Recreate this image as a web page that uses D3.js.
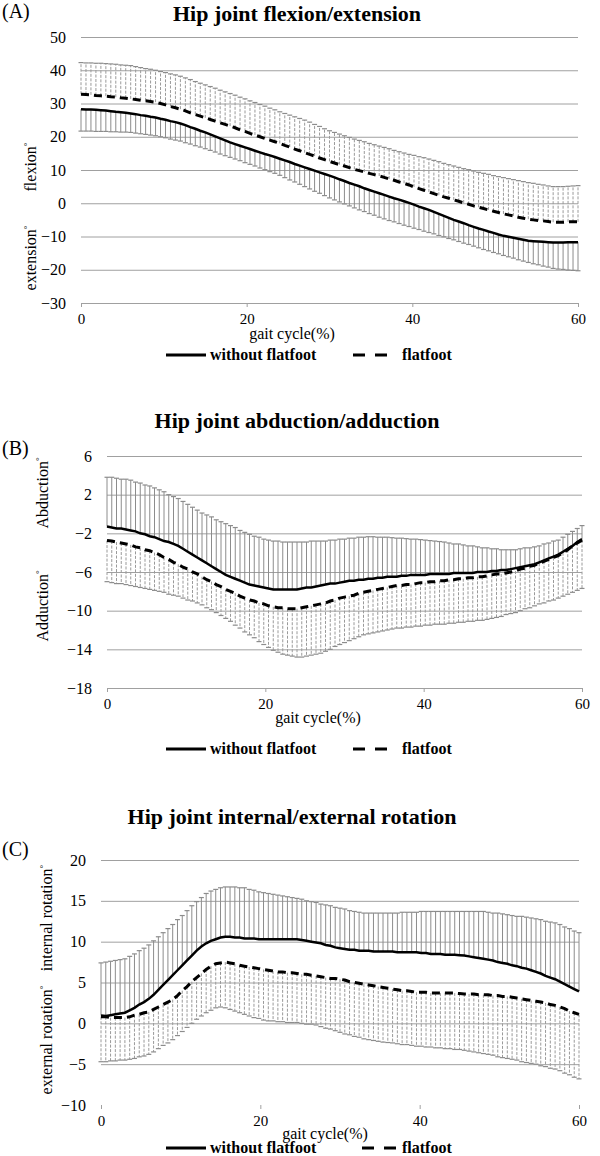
<!DOCTYPE html>
<html>
<head>
<meta charset="utf-8">
<script src="https://cdn.jsdelivr.net/npm/d3@7"></script>
<style>
body { margin: 0; background: #fff; }
text { font-family: "Liberation Serif", "Times New Roman", serif; fill: #000; }
</style>
</head>
<body>
<div id="chart-area"></div>
<script>
// gait cycle samples (%)
const gaitCycle = [0,0.6,1.2,1.8,2.4, 3,3.6,4.2,4.8,5.4, 6,6.6,7.2,7.8,8.4, 9,9.6,10.2,10.8,11.4,
  12,12.6,13.2,13.8,14.4, 15,15.6,16.2,16.8,17.4, 18,18.6,19.2,19.8,20.4, 21,21.6,22.2,22.8,23.4,
  24,24.6,25.2,25.8,26.4, 27,27.6,28.2,28.8,29.4, 30,30.6,31.2,31.8,32.4, 33,33.6,34.2,34.8,35.4,
  36,36.6,37.2,37.8,38.4, 39,39.6,40.2,40.8,41.4, 42,42.6,43.2,43.8,44.4, 45,45.6,46.2,46.8,47.4,
  48,48.6,49.2,49.8,50.4, 51,51.6,52.2,52.8,53.4, 54,54.6,55.2,55.8,56.4, 57,57.6,58.2,58.8,59.4, 60];
const xTicks = [0, 20, 40, 60];

// (A) flexion / extension
const flexTicks = [50, 40, 30, 20, 10, 0, -10, -20, -30];
const flexWithout = [28.3,28.2,28.2,28.1,28.0, 27.9,27.7,27.5,27.4,27.2, 27.0,26.8,26.5,26.3,26.0, 25.8,25.4,25.1,24.7,24.4,
  24.0,23.5,22.9,22.4,21.8, 21.3,20.7,20.1,19.5,18.9, 18.3,17.8,17.3,16.8,16.3, 15.8,15.3,14.8,14.4,13.9,
  13.4,12.9,12.4,11.8,11.3, 10.8,10.3,9.8,9.3,8.8, 8.3,7.8,7.2,6.7,6.1, 5.6,5.1,4.5,4.0,3.5,
  3.0,2.5,2.0,1.5,1.1, 0.6,0.1,-0.4,-1.0,-1.5, -2.0,-2.6,-3.2,-3.8,-4.4, -5.0,-5.5,-6.0,-6.6,-7.1,
  -7.6,-8.0,-8.5,-8.9,-9.4, -9.8,-10.1,-10.4,-10.7,-11.0, -11.3,-11.4,-11.5,-11.6,-11.7, -11.8,-11.8,-11.8,-11.7,-11.7, -11.7];
const flexWithoutLow = [21.7,21.7,21.7,21.6,21.6, 21.6,21.5,21.5,21.4,21.4, 21.3,21.1,20.9,20.7,20.5, 20.3,20.0,19.7,19.3,19.0,
  18.7,18.2,17.8,17.3,16.9, 16.4,15.9,15.4,14.8,14.3, 13.8,13.3,12.8,12.2,11.7, 11.2,10.6,10.1,9.5,9.0,
  8.4,7.7,7.0,6.4,5.7, 5.0,4.3,3.6,3.0,2.3, 1.6,1.0,0.4,-0.2,-0.8, -1.4,-2.0,-2.5,-3.1,-3.6,
  -4.2,-4.7,-5.2,-5.6,-6.1, -6.6,-7.0,-7.5,-7.9,-8.4, -8.8,-9.2,-9.7,-10.1,-10.6, -11.0,-11.5,-12.0,-12.4,-12.9,
  -13.4,-13.9,-14.3,-14.8,-15.2, -15.7,-16.1,-16.5,-17.0,-17.4, -17.8,-18.2,-18.5,-18.9,-19.2, -19.6,-19.8,-19.9,-20.1,-20.2, -20.3];
const flexFlat = [32.8,32.7,32.6,32.4,32.3, 32.2,32.0,31.9,31.7,31.6, 31.4,31.2,31.0,30.8,30.6, 30.4,30.0,29.6,29.1,28.7,
  28.3,27.8,27.2,26.7,26.2, 25.7,25.2,24.7,24.2,23.7, 23.2,22.7,22.1,21.6,21.0, 20.5,20.0,19.5,19.0,18.5,
  18.0,17.4,16.9,16.3,15.8, 15.2,14.7,14.2,13.6,13.1, 12.6,12.1,11.6,11.2,10.7, 10.2,9.8,9.4,9.0,8.6,
  8.2,7.8,7.3,6.9,6.4, 6.0,5.5,4.9,4.4,3.9, 3.4,2.9,2.4,1.9,1.5, 1.0,0.6,0.1,-0.3,-0.8,
  -1.2,-1.6,-2.0,-2.4,-2.8, -3.2,-3.5,-3.8,-4.2,-4.5, -4.8,-5.0,-5.2,-5.3,-5.5, -5.7,-5.7,-5.7,-5.6,-5.6, -5.6];
const flexFlatHigh = [42.3,42.2,42.2,42.1,42.1, 42.0,41.9,41.8,41.6,41.5, 41.4,41.1,40.8,40.5,40.3, 40.0,39.6,39.3,38.9,38.6,
  38.2,37.7,37.2,36.6,36.1, 35.6,35.1,34.6,34.0,33.5, 33.0,32.5,31.9,31.4,30.8, 30.3,29.7,29.2,28.6,28.1,
  27.5,27.0,26.5,26.0,25.5, 25.0,24.4,23.7,23.1,22.4, 21.8,21.3,20.8,20.3,19.8, 19.3,18.9,18.5,18.0,17.6,
  17.2,16.8,16.4,15.9,15.5, 15.1,14.7,14.4,14.0,13.7, 13.3,12.9,12.5,12.0,11.6, 11.2,10.8,10.4,10.1,9.7,
  9.3,9.0,8.7,8.3,8.0, 7.7,7.4,7.1,6.8,6.5, 6.2,6.0,5.7,5.5,5.2, 5.0,5.0,5.0,5.1,5.2, 5.3];

// (B) abduction / adduction
const abdTicks = [6, 2, -2, -6, -10, -14, -18];
const abdWithout = [-1.3,-1.4,-1.5,-1.5,-1.6, -1.7,-1.8,-2.0,-2.1,-2.3, -2.4,-2.6,-2.8,-2.9,-3.1, -3.3,-3.6,-3.9,-4.2,-4.5,
  -4.8,-5.1,-5.4,-5.7,-6.0, -6.3,-6.5,-6.7,-6.9,-7.1, -7.3,-7.4,-7.5,-7.6,-7.7, -7.8,-7.8,-7.8,-7.8,-7.8,
  -7.8,-7.7,-7.6,-7.6,-7.5, -7.4,-7.3,-7.2,-7.2,-7.1, -7.0,-6.9,-6.9,-6.8,-6.8, -6.7,-6.7,-6.6,-6.6,-6.5,
  -6.5,-6.5,-6.4,-6.4,-6.3, -6.3,-6.3,-6.3,-6.2,-6.2, -6.2,-6.2,-6.2,-6.1,-6.1, -6.1,-6.1,-6.1,-6.0,-6.0,
  -6.0,-5.9,-5.9,-5.8,-5.8, -5.7,-5.6,-5.5,-5.4,-5.3, -5.2,-5.0,-4.8,-4.6,-4.4, -4.2,-3.9,-3.6,-3.3,-2.9, -2.6];
const abdWithoutHigh = [3.8,3.8,3.7,3.6,3.6, 3.5,3.3,3.2,3.0,2.9, 2.7,2.5,2.3,2.0,1.8, 1.6,1.3,1.0,0.7,0.4,
  0.1,-0.1,-0.3,-0.6,-0.8, -1.0,-1.2,-1.4,-1.7,-1.9, -2.1,-2.3,-2.4,-2.6,-2.7, -2.8,-2.8,-2.9,-2.9,-2.9,
  -2.9,-2.9,-2.9,-2.8,-2.8, -2.8,-2.8,-2.7,-2.7,-2.6, -2.6,-2.5,-2.5,-2.4,-2.4, -2.35,-2.35,-2.4,-2.4,-2.4,
  -2.45,-2.5,-2.5,-2.55,-2.6, -2.6,-2.65,-2.7,-2.75,-2.8, -2.85,-2.9,-3.0,-3.1,-3.1, -3.2,-3.3,-3.3,-3.4,-3.5,
  -3.5,-3.6,-3.6,-3.7,-3.7, -3.7,-3.7,-3.6,-3.5,-3.5, -3.4,-3.3,-3.1,-3.0,-2.8, -2.7,-2.4,-2.1,-1.8,-1.5, -1.2];
const abdFlat = [-2.75,-2.8,-2.9,-3.0,-3.1, -3.2,-3.4,-3.5,-3.7,-3.8, -4.0,-4.2,-4.5,-4.7,-5.0, -5.2,-5.5,-5.7,-6.0,-6.2,
  -6.5,-6.8,-7.0,-7.3,-7.5, -7.8,-8.0,-8.2,-8.5,-8.7, -8.9,-9.0,-9.2,-9.3,-9.5, -9.6,-9.7,-9.7,-9.8,-9.8,
  -9.8,-9.7,-9.6,-9.5,-9.4, -9.3,-9.2,-9.0,-8.9,-8.7, -8.6,-8.5,-8.4,-8.2,-8.1, -8.0,-7.9,-7.8,-7.7,-7.6,
  -7.5,-7.4,-7.4,-7.3,-7.3, -7.2,-7.1,-7.1,-7.0,-7.0, -6.9,-6.9,-6.8,-6.8,-6.7, -6.7,-6.6,-6.6,-6.5,-6.5,
  -6.4,-6.3,-6.2,-6.2,-6.1, -6.0,-5.9,-5.7,-5.6,-5.4, -5.3,-5.1,-4.9,-4.7,-4.5, -4.3,-4.0,-3.7,-3.3,-3.0, -2.7];
const abdFlatLow = [-7.0,-7.1,-7.2,-7.2,-7.3, -7.4,-7.5,-7.6,-7.7,-7.8, -7.9,-8.0,-8.1,-8.3,-8.4, -8.5,-8.7,-8.9,-9.0,-9.2,
  -9.4,-9.7,-9.9,-10.2,-10.5, -10.8,-11.1,-11.5,-11.8,-12.2, -12.5,-12.8,-13.2,-13.5,-13.8, -14.1,-14.3,-14.5,-14.6,-14.7,
  -14.8,-14.8,-14.7,-14.6,-14.5, -14.4,-14.2,-14.0,-13.7,-13.5, -13.3,-13.1,-12.9,-12.7,-12.5, -12.4,-12.3,-12.2,-12.1,-12.0,
  -11.9,-11.8,-11.8,-11.7,-11.7, -11.6,-11.6,-11.5,-11.5,-11.4, -11.4,-11.4,-11.3,-11.3,-11.2, -11.2,-11.1,-11.1,-11.0,-11.0,
  -10.9,-10.8,-10.7,-10.6,-10.4, -10.3,-10.2,-10.0,-9.8,-9.7, -9.5,-9.3,-9.2,-9.0,-8.9, -8.7,-8.5,-8.3,-8.1,-7.9, -7.7];

// (C) internal / external rotation
const rotTicks = [20, 15, 10, 5, 0, -5, -10];
const rotWithout = [0.95,0.9,1.0,1.1,1.2, 1.3,1.6,1.9,2.3,2.6, 3.0,3.5,4.1,4.7,5.3, 5.9,6.5,7.1,7.7,8.3,
  8.9,9.4,9.8,10.1,10.3, 10.5,10.6,10.6,10.5,10.5, 10.4,10.4,10.4,10.3,10.3, 10.3,10.3,10.3,10.3,10.3,
  10.3,10.3,10.2,10.1,10.0, 9.9,9.8,9.6,9.5,9.3, 9.2,9.1,9.0,9.0,8.9, 8.9,8.9,8.8,8.8,8.8,
  8.8,8.8,8.7,8.7,8.7, 8.7,8.7,8.6,8.6,8.5, 8.5,8.5,8.4,8.4,8.4, 8.35,8.3,8.2,8.1,8.0,
  7.9,7.8,7.7,7.5,7.4, 7.3,7.1,7.0,6.8,6.7, 6.5,6.3,6.1,5.8,5.6, 5.4,5.1,4.8,4.5,4.2, 3.9];
const rotWithoutHigh = [7.4,7.5,7.6,7.7,7.8, 7.9,8.2,8.5,8.9,9.2, 9.6,10.1,10.6,11.1,11.6, 12.1,12.7,13.2,13.8,14.4,
  14.9,15.4,15.9,16.2,16.4, 16.6,16.7,16.7,16.7,16.6, 16.6,16.4,16.3,16.1,16.0, 15.9,15.8,15.7,15.6,15.5,
  15.4,15.3,15.2,15.0,14.9, 14.8,14.6,14.5,14.4,14.2, 14.1,14.0,13.8,13.7,13.6, 13.5,13.5,13.5,13.5,13.5,
  13.5,13.5,13.5,13.6,13.6, 13.6,13.6,13.7,13.7,13.7, 13.7,13.7,13.7,13.7,13.7, 13.7,13.7,13.7,13.7,13.7,
  13.7,13.6,13.5,13.5,13.4, 13.3,13.2,13.1,13.1,13.0, 12.9,12.8,12.7,12.5,12.4, 12.3,12.1,11.8,11.6,11.3, 11.1];
const rotFlat = [0.8,0.8,0.7,0.7,0.7, 0.7,0.8,1.0,1.1,1.3, 1.4,1.7,2.0,2.3,2.6, 2.9,3.4,4.0,4.5,5.1,
  5.6,6.1,6.6,7.0,7.3, 7.4,7.5,7.4,7.3,7.1, 7.0,6.9,6.8,6.7,6.6, 6.5,6.4,6.3,6.3,6.2,
  6.2,6.1,6.0,6.0,5.9, 5.8,5.7,5.6,5.5,5.5, 5.4,5.3,5.1,5.0,4.9, 4.8,4.7,4.6,4.5,4.4,
  4.3,4.2,4.1,4.0,4.0, 3.9,3.8,3.8,3.8,3.7, 3.7,3.7,3.7,3.7,3.7, 3.65,3.6,3.6,3.6,3.5,
  3.5,3.5,3.4,3.4,3.3, 3.3,3.2,3.1,3.0,2.9, 2.8,2.7,2.6,2.5,2.3, 2.2,2.0,1.8,1.5,1.3, 1.1];
const rotFlatLow = [-4.7,-4.7,-4.6,-4.6,-4.5, -4.5,-4.4,-4.3,-4.1,-4.0, -3.8,-3.5,-3.1,-2.7,-2.4, -2.0,-1.5,-1.0,-0.5,0.0,
  0.5,0.9,1.3,1.6,1.9, 2.0,1.9,1.7,1.5,1.3, 1.1,0.9,0.7,0.6,0.4, 0.3,0.3,0.2,0.2,0.1,
  0.1,0.1,0.0,-0.1,-0.1, -0.2,-0.4,-0.6,-0.7,-0.9, -1.1,-1.3,-1.4,-1.6,-1.7, -1.9,-2.0,-2.1,-2.2,-2.3,
  -2.35,-2.4,-2.5,-2.6,-2.6, -2.7,-2.8,-2.8,-2.9,-2.9, -3.0,-3.0,-3.1,-3.1,-3.2, -3.2,-3.3,-3.4,-3.5,-3.6,
  -3.7,-3.8,-3.9,-4.1,-4.2, -4.3,-4.4,-4.5,-4.7,-4.8, -4.9,-5.0,-5.2,-5.3,-5.5, -5.6,-5.8,-6.1,-6.3,-6.6, -6.8];

const legendNames = ["without flatfoot", "flatfoot"];

const width = 600, height = 1156;

var svg = d3.select("#chart-area").append("svg")
    .attr("width", width)
    .attr("height", height);

// panel layouts
var panels = [
  { tag: "(A)", tagY: 18, title: "Hip joint flexion/extension", titleX: 297, titleY: 21,
    left: 81, right: 578, top: 37, bottom: 303, domain: [-30, 50], ticks: flexTicks,
    ylabels: [{t: "flexion", x: 30, y: 167}, {t: "extension", x: 30, y: 258}],
    axisLine: true, xTitleX: 292, xTitleY: 339, legendY: 355, dashX: 353,
    series: [
      {mean: flexWithout, bound: flexWithoutLow, dashed: false},
      {mean: flexFlat, bound: flexFlatHigh, dashed: true}] },
  { tag: "(B)", tagY: 455, title: "Hip joint abduction/adduction", titleX: 297, titleY: 428,
    left: 107, right: 582, top: 456, bottom: 688, domain: [-18, 6], ticks: abdTicks,
    ylabels: [{t: "Abduction", x: 42, y: 493}, {t: "Adduction", x: 42, y: 606}],
    axisLine: true, xTitleX: 318, xTitleY: 723, legendY: 749, dashX: 353,
    series: [
      {mean: abdWithout, bound: abdWithoutHigh, dashed: false},
      {mean: abdFlat, bound: abdFlatLow, dashed: true}] },
  { tag: "(C)", tagY: 856, title: "Hip joint internal/external rotation", titleX: 292, titleY: 824,
    left: 101, right: 579, top: 860, bottom: 1105, domain: [-10, 20], ticks: rotTicks,
    ylabels: [{t: "internal rotation", x: 46, y: 918}, {t: "external rotation", x: 46, y: 1040}],
    axisLine: false, xTitleX: 325, xTitleY: 1139, legendY: 1148, dashX: 362,
    series: [
      {mean: rotWithout, bound: rotWithoutHigh, dashed: false},
      {mean: rotFlat, bound: rotFlatLow, dashed: true}] }
];

var drawPanel = function(p) {
  var x = d3.scaleLinear().domain([0, 60]).range([p.left, p.right]);
  var y = d3.scaleLinear().domain(p.domain).range([p.bottom, p.top]);
  var g = svg.append("g");

  g.append("text").attr("x", 2).attr("y", p.tagY)
    .attr("font-size", 20).text(p.tag);

  g.append("text").attr("x", p.titleX).attr("y", p.titleY)
    .attr("text-anchor", "middle").attr("font-size", 22).attr("font-weight", "bold")
    .text(p.title);

  // gridlines + y labels
  var yAxis = g.append("g")
    .attr("transform", "translate(" + p.left + ",0)")
    .call(d3.axisLeft(y).tickValues(p.ticks).tickSize(-(p.right - p.left)).tickPadding(15));
  yAxis.select(".domain").remove();
  yAxis.selectAll(".tick line").attr("stroke", "#a0a0a0")
    .attr("stroke-opacity", d => (d === p.domain[0] && !p.axisLine) ? 0 : 1);
  yAxis.selectAll(".tick text")
    .attr("font-size", 16).attr("font-family", "Liberation Serif, serif").attr("fill", "#000");

  // x axis
  var xAxis = g.append("g")
    .attr("transform", "translate(0," + p.bottom + ")")
    .call(d3.axisBottom(x).tickValues(xTicks).tickSize(4).tickPadding(6));
  xAxis.select(".domain").remove();
  xAxis.selectAll(".tick line").attr("stroke", "#a0a0a0");
  xAxis.selectAll(".tick text")
    .attr("font-size", 15).attr("font-family", "Liberation Serif, serif").attr("fill", "#000");

  g.append("text").attr("x", p.xTitleX).attr("y", p.xTitleY)
    .attr("text-anchor", "middle").attr("font-size", 16).text("gait cycle(%)");

  // y axis titles
  p.ylabels.forEach(function(l) {
    var t = g.append("text")
      .attr("transform", "translate(" + l.x + "," + l.y + ") rotate(-90)")
      .attr("text-anchor", "middle").attr("dy", "0.35em").attr("font-size", 16);
    t.append("tspan").text(l.t);
    t.append("tspan").attr("font-size", 9).attr("dy", "-0.6em").text("°");
  });

  // error bars
  p.series.forEach(function(s) {
    var bars = g.append("g");
    bars.selectAll("line.bar")
      .data(gaitCycle)
      .enter().append("line")
      .attr("class", "bar")
      .attr("x1", d => x(d)).attr("x2", d => x(d))
      .attr("y1", (d, i) => y(s.mean[i]))
      .attr("y2", (d, i) => y(s.bound[i]))
      .attr("stroke", s.dashed ? "#9a9a9a" : "#8c8c8c")
      .attr("stroke-width", 1)
      .attr("stroke-dasharray", s.dashed ? "3,1.5" : null);
    bars.selectAll("line.cap")
      .data(gaitCycle)
      .enter().append("line")
      .attr("class", "cap")
      .attr("x1", d => x(d) - 2.5).attr("x2", d => x(d) + 2.5)
      .attr("y1", (d, i) => y(s.bound[i]))
      .attr("y2", (d, i) => y(s.bound[i]))
      .attr("stroke", "#8c8c8c")
      .attr("stroke-width", 1.2);
  });

  p.series.forEach(function(s) {
    var line = d3.line()
      .x((d, i) => x(gaitCycle[i]))
      .y(d => y(d));
    g.append("path")
      .datum(s.mean)
      .attr("fill", "none")
      .attr("stroke", "#000")
      .attr("stroke-width", s.dashed ? 3 : 2.5)
      .attr("stroke-dasharray", s.dashed ? "8,5" : null)
      .attr("d", line);
  });

  // legend
  var leg = g.append("g");
  leg.append("line").attr("x1", 166).attr("x2", 206)
    .attr("y1", p.legendY).attr("y2", p.legendY)
    .attr("stroke", "#000").attr("stroke-width", 3);
  leg.append("text").attr("x", 210).attr("y", p.legendY + 5)
    .attr("font-size", 16).attr("font-weight", "bold").text(legendNames[0]);
  leg.append("line").attr("x1", p.dashX).attr("x2", p.dashX + 34)
    .attr("y1", p.legendY).attr("y2", p.legendY)
    .attr("stroke", "#000").attr("stroke-width", 3).attr("stroke-dasharray", "12,10");
  leg.append("text").attr("x", 402).attr("y", p.legendY + 5)
    .attr("font-size", 16).attr("font-weight", "bold").text(legendNames[1]);
};

panels.forEach(drawPanel);
</script>
</body>
</html>
